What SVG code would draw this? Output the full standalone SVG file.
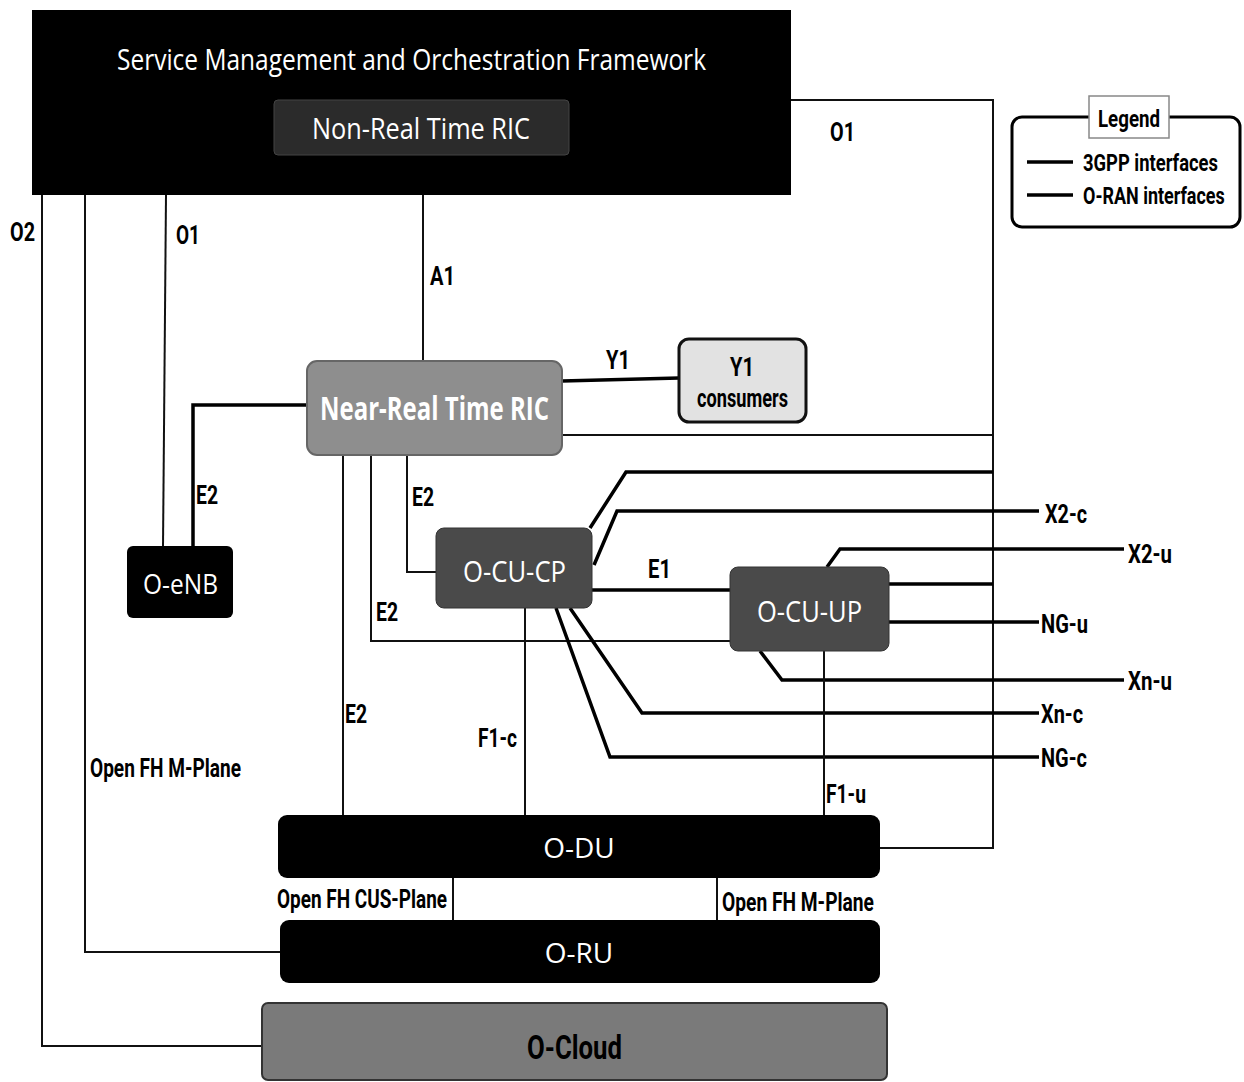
<svg xmlns="http://www.w3.org/2000/svg" width="1244" height="1082" viewBox="0 0 1244 1082">
<style>
.oran{fill:none;stroke:#111;stroke-width:2}
.gpp{fill:none;stroke:#000;stroke-width:3.5}
.lbl{font-family:Roboto,"DejaVu Sans",sans-serif;font-weight:bold;font-size:26px;fill:#000}
.lg{font-size:24px}
.wt{font-family:"Open Sans","DejaVu Sans",sans-serif;fill:#fff}
</style>
<rect width="1244" height="1082" fill="#fff"/>
<g id="connectors">
<path class="oran" d="M42 195V1046H262"/>
<path class="oran" d="M85 195V952H280"/>
<path class="oran" d="M166 195L163 547"/>
<path class="oran" d="M423 155V362"/>
<path class="oran" d="M791 100H993V848H880"/>
<path class="gpp" d="M562 381L679 378"/>
<path class="oran" d="M562 435H993"/>
<path class="gpp" d="M307 405H193V547"/>
<path class="oran" d="M343 455V815"/>
<path class="oran" d="M371 455V641H730"/>
<path class="oran" d="M407 455V572H437"/>
<path class="gpp" d="M592 590H730"/>
<path class="gpp" d="M590 528L626 472H993"/>
<path class="gpp" d="M594 565L617 511H1039"/>
<path class="gpp" d="M827 567L840 549H1124"/>
<path class="gpp" d="M889 584H993"/>
<path class="gpp" d="M889 622H1039"/>
<path class="gpp" d="M760 651L782 680H1124"/>
<path class="gpp" d="M570 608L642 713H1039"/>
<path class="gpp" d="M556 608L610 757H1039"/>
<path class="oran" d="M525 608V815"/>
<path class="oran" d="M824 651V815"/>
<path class="oran" d="M453 878V920"/>
<path class="oran" d="M717 878V920"/>
</g>
<g id="labels">
<text class="lbl" x="10" y="241" textLength="25" lengthAdjust="spacingAndGlyphs">O2</text>
<text class="lbl" x="176" y="244" textLength="24" lengthAdjust="spacingAndGlyphs">O1</text>
<text class="lbl" x="430" y="285" textLength="25" lengthAdjust="spacingAndGlyphs">A1</text>
<text class="lbl" x="830" y="141" textLength="25" lengthAdjust="spacingAndGlyphs">O1</text>
<text class="lbl" x="606" y="369" textLength="24" lengthAdjust="spacingAndGlyphs">Y1</text>
<text class="lbl" x="196" y="504" textLength="22" lengthAdjust="spacingAndGlyphs">E2</text>
<text class="lbl" x="412" y="506" textLength="22" lengthAdjust="spacingAndGlyphs">E2</text>
<text class="lbl" x="376" y="621" textLength="22" lengthAdjust="spacingAndGlyphs">E2</text>
<text class="lbl" x="345" y="723" textLength="22" lengthAdjust="spacingAndGlyphs">E2</text>
<text class="lbl" x="648" y="578" textLength="23" lengthAdjust="spacingAndGlyphs">E1</text>
<text class="lbl" x="1045" y="523" textLength="42" lengthAdjust="spacingAndGlyphs">X2-c</text>
<text class="lbl" x="1128" y="563" textLength="44" lengthAdjust="spacingAndGlyphs">X2-u</text>
<text class="lbl" x="1041" y="633" textLength="47" lengthAdjust="spacingAndGlyphs">NG-u</text>
<text class="lbl" x="1128" y="690" textLength="44" lengthAdjust="spacingAndGlyphs">Xn-u</text>
<text class="lbl" x="1041" y="723" textLength="42" lengthAdjust="spacingAndGlyphs">Xn-c</text>
<text class="lbl" x="1041" y="767" textLength="46" lengthAdjust="spacingAndGlyphs">NG-c</text>
<text class="lbl" x="478" y="747" textLength="39" lengthAdjust="spacingAndGlyphs">F1-c</text>
<text class="lbl" x="826" y="803" textLength="40" lengthAdjust="spacingAndGlyphs">F1-u</text>
<text class="lbl" x="90" y="777" textLength="151" lengthAdjust="spacingAndGlyphs">Open FH M-Plane</text>
<text class="lbl" x="277" y="908" textLength="170" lengthAdjust="spacingAndGlyphs">Open FH CUS-Plane</text>
<text class="lbl" x="722" y="911" textLength="152" lengthAdjust="spacingAndGlyphs">Open FH M-Plane</text>
</g>
<g id="smo">
<rect x="32" y="10" width="759" height="185" fill="#000"/>
<text class="wt" x="117" y="70" font-size="29" textLength="589" lengthAdjust="spacingAndGlyphs">Service Management and Orchestration Framework</text>
</g>
<g id="non-rt-ric">
<rect x="274" y="100" width="295" height="55" rx="4" fill="#2b2b2b" stroke="#444"/>
<text class="wt" x="312" y="139" font-size="30" textLength="218" lengthAdjust="spacingAndGlyphs">Non-Real Time RIC</text>
</g>
<g id="near-rt-ric">
<rect x="307" y="361" width="255" height="94" rx="10" fill="#8e8e8e" stroke="#666" stroke-width="2"/>
<text class="wt" x="320" y="420" font-size="32" font-weight="bold" textLength="229" lengthAdjust="spacingAndGlyphs">Near-Real Time RIC</text>
</g>
<g id="y1-consumers">
<rect x="679" y="339" width="127" height="83" rx="10" fill="#e2e2e2" stroke="#111" stroke-width="3"/>
<text class="lbl" x="730" y="376" textLength="24" lengthAdjust="spacingAndGlyphs">Y1</text>
<text class="lbl" x="697" y="407" textLength="91" lengthAdjust="spacingAndGlyphs">consumers</text>
</g>
<g id="o-enb">
<rect x="127" y="546" width="106" height="72" rx="6" fill="#000"/>
<text class="wt" x="143" y="594" font-size="28" textLength="75" lengthAdjust="spacingAndGlyphs">O-eNB</text>
</g>
<g id="o-cu-cp">
<rect x="436" y="528" width="156" height="80" rx="8" fill="#4a4a4a" stroke="#333"/>
<text class="wt" x="463" y="582" font-size="30" textLength="103" lengthAdjust="spacingAndGlyphs">O-CU-CP</text>
</g>
<g id="o-cu-up">
<rect x="730" y="567" width="159" height="84" rx="8" fill="#4a4a4a" stroke="#333"/>
<text class="wt" x="757" y="622" font-size="30" textLength="105" lengthAdjust="spacingAndGlyphs">O-CU-UP</text>
</g>
<g id="o-du">
<rect x="278" y="815" width="602" height="63" rx="9" fill="#000"/>
<text class="wt" x="579" y="858" font-size="28" text-anchor="middle">O-DU</text>
</g>
<g id="o-ru">
<rect x="280" y="920" width="600" height="63" rx="9" fill="#000"/>
<text class="wt" x="579" y="963" font-size="28" text-anchor="middle">O-RU</text>
</g>
<g id="o-cloud">
<rect x="262" y="1003" width="625" height="77" rx="6" fill="#7a7a7a" stroke="#333" stroke-width="2"/>
<text class="lbl" x="527" y="1059" textLength="95" lengthAdjust="spacingAndGlyphs" style="font-size:34px">O-Cloud</text>
</g>
<g id="legend">
<rect x="1012" y="117" width="228" height="110" rx="10" fill="#fff" stroke="#000" stroke-width="3"/>
<rect x="1089" y="96" width="80" height="42" fill="#fff" stroke="#888" stroke-width="1.5"/>
<text class="lbl lg" x="1098" y="127" textLength="62" lengthAdjust="spacingAndGlyphs">Legend</text>
<path class="gpp" d="M1027 162H1073" stroke-width="4"/>
<path class="gpp" d="M1027 195H1073" stroke="#222"/>
<text class="lbl lg" transform="translate(1083 171) scale(0.75 1)" textLength="180" lengthAdjust="spacingAndGlyphs">3GPP interfaces</text>
<text class="lbl lg" transform="translate(1083 204) scale(0.75 1)" textLength="189" lengthAdjust="spacingAndGlyphs">O-RAN interfaces</text>
</g>
</svg>
